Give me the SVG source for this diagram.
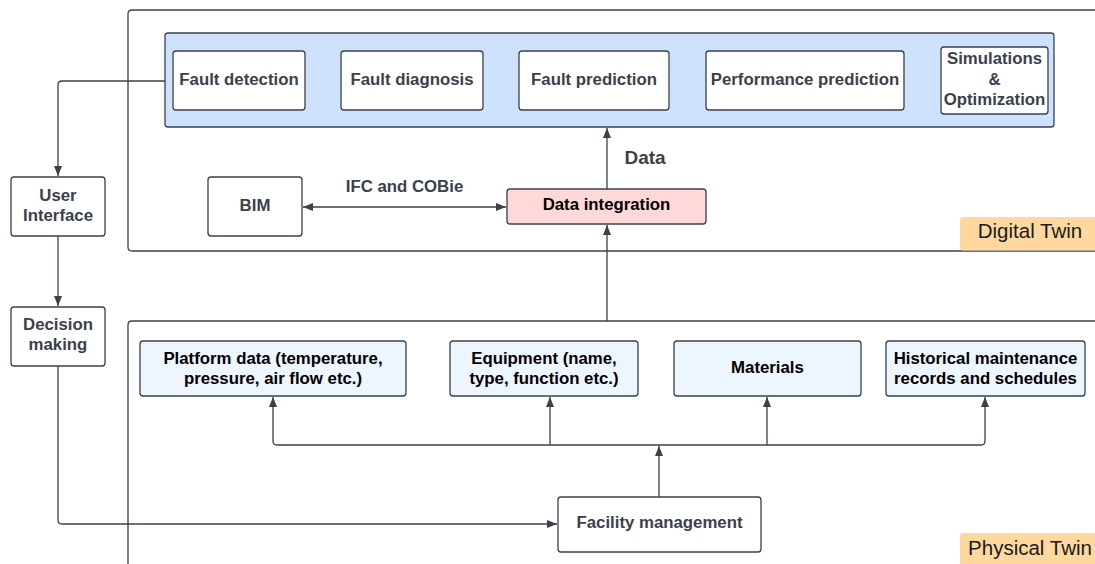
<svg xmlns="http://www.w3.org/2000/svg" width="1095" height="564" viewBox="0 0 1095 564">
<style>
.frame{fill:#fff;stroke:#3a414a;stroke-width:1.3}
.panel{fill:#cfe2fd;stroke:#3a414a;stroke-width:1.3}
.box{fill:#fff;stroke:#3a414a;stroke-width:1.3}
.pbox{fill:#edf5ff;stroke:#3a414a;stroke-width:1.3}
.pink{fill:#ffd8da;stroke:#3a414a;stroke-width:1.3}
.tag{fill:#fed89f}
.t{font-family:"Liberation Sans",Arial,sans-serif;font-weight:bold;font-size:16.8px;fill:#3a414a;text-anchor:middle}
.k{font-family:"Liberation Sans",Arial,sans-serif;font-weight:bold;font-size:16.8px;fill:#000;text-anchor:middle}
.lbl{font-family:"Liberation Sans",Arial,sans-serif;font-size:20.5px;fill:#1a1a1a;text-anchor:middle}
.c{fill:none;stroke:#3a414a;stroke-width:1.3}
</style>
<defs>
<marker id="ah" markerUnits="userSpaceOnUse" markerWidth="12" markerHeight="12" viewBox="0 0 12 12" refX="11" refY="6" orient="auto-start-reverse">
<path d="M1,2 L11,6 L1,10 Z" fill="#3a414a"/>
</marker>
</defs>

<g id="digital-twin">
<path class="frame" d="M1100,10 H132 Q128,10 128,14 V247 Q128,251 132,251 H1100"/>
<rect class="tag" x="960" y="217" width="140" height="33.5" rx="3"/>
<text class="lbl" x="1030" y="238">Digital Twin</text>
</g>

<g id="physical-twin">
<path class="frame" d="M1100,321 H132 Q128,321 128,325 V570"/>
<rect class="tag" x="960" y="533" width="140" height="40" rx="3"/>
<text class="lbl" x="1030" y="554.5">Physical Twin</text>
</g>

<g id="analytics-panel">
<rect class="panel" x="165" y="33" width="889" height="94" rx="3"/>
</g>
<g id="fault-detection">
<rect class="box" x="173" y="51" width="132" height="59" rx="3"/>
<text class="t" x="239" y="85">Fault detection</text>
</g>
<g id="fault-diagnosis">
<rect class="box" x="341" y="51" width="142" height="59" rx="3"/>
<text class="t" x="412" y="85">Fault diagnosis</text>
</g>
<g id="fault-prediction">
<rect class="box" x="519" y="51" width="150" height="59" rx="3"/>
<text class="t" x="594" y="85">Fault prediction</text>
</g>
<g id="performance-prediction">
<rect class="box" x="706" y="51" width="198" height="59" rx="3"/>
<text class="t" x="805" y="85">Performance prediction</text>
</g>
<g id="simulations">
<rect class="box" x="941" y="47" width="107" height="67" rx="3"/>
<text class="t" x="994.5" y="64">Simulations</text>
<text class="t" x="994.5" y="85">&amp;</text>
<text class="t" x="994.5" y="105">Optimization</text>
</g>

<g id="bim">
<rect class="box" x="208" y="177" width="94" height="59" rx="3"/>
<text class="t" x="255" y="211">BIM</text>
</g>
<g id="data-integration">
<rect class="pink" x="507" y="189" width="199" height="35" rx="3"/>
<text class="k" x="606.5" y="210">Data integration</text>
</g>

<g id="user-interface">
<rect class="box" x="11" y="177" width="94" height="59" rx="3"/>
<text class="t" x="58" y="201">User</text>
<text class="t" x="58" y="221">Interface</text>
</g>
<g id="decision-making">
<rect class="box" x="11" y="307" width="94" height="59" rx="3"/>
<text class="t" x="58" y="330">Decision</text>
<text class="t" x="58" y="350">making</text>
</g>

<g id="platform-data">
<rect class="pbox" x="140" y="341" width="266" height="55" rx="3"/>
<text class="k" x="273" y="364">Platform data (temperature,</text>
<text class="k" x="273" y="384">pressure, air flow etc.)</text>
</g>
<g id="equipment">
<rect class="pbox" x="450" y="341" width="188" height="55" rx="3"/>
<text class="k" x="544" y="364">Equipment (name,</text>
<text class="k" x="544" y="384">type, function etc.)</text>
</g>
<g id="materials">
<rect class="pbox" x="674" y="341" width="187" height="55" rx="3"/>
<text class="k" x="767.5" y="373">Materials</text>
</g>
<g id="historical">
<rect class="pbox" x="886" y="341" width="199" height="55" rx="3"/>
<text class="k" x="985.5" y="364">Historical maintenance</text>
<text class="k" x="985.5" y="384">records and schedules</text>
</g>
<g id="facility-management">
<rect class="box" x="558" y="497" width="203" height="55" rx="3"/>
<text class="t" x="659.5" y="528">Facility management</text>
</g>

<g id="connectors">
<path class="c" d="M165,81 H62 Q58,81 58,85 V176" marker-end="url(#ah)"/>
<path class="c" d="M58,236 V306" marker-end="url(#ah)"/>
<path class="c" d="M58,366 V520 Q58,524 62,524 H557" marker-end="url(#ah)"/>
<path class="c" d="M607,189 V128" marker-end="url(#ah)"/>
<text class="t" x="645" y="164" style="font-size:19px">Data</text>
<path class="c" d="M303,207 H506" marker-start="url(#ah)" marker-end="url(#ah)"/>
<text class="t" x="404.5" y="192">IFC and COBie</text>
<path class="c" d="M607,321 V225" marker-end="url(#ah)"/>
<path class="c" d="M659,497 V446" marker-end="url(#ah)"/>
<path class="c" d="M273,397 V441 Q273,445 277,445 H981 Q985,445 985,441 V397" marker-start="url(#ah)" marker-end="url(#ah)"/>
<path class="c" d="M550,445 V397" marker-end="url(#ah)"/>
<path class="c" d="M767,445 V397" marker-end="url(#ah)"/>
</g>
</svg>
